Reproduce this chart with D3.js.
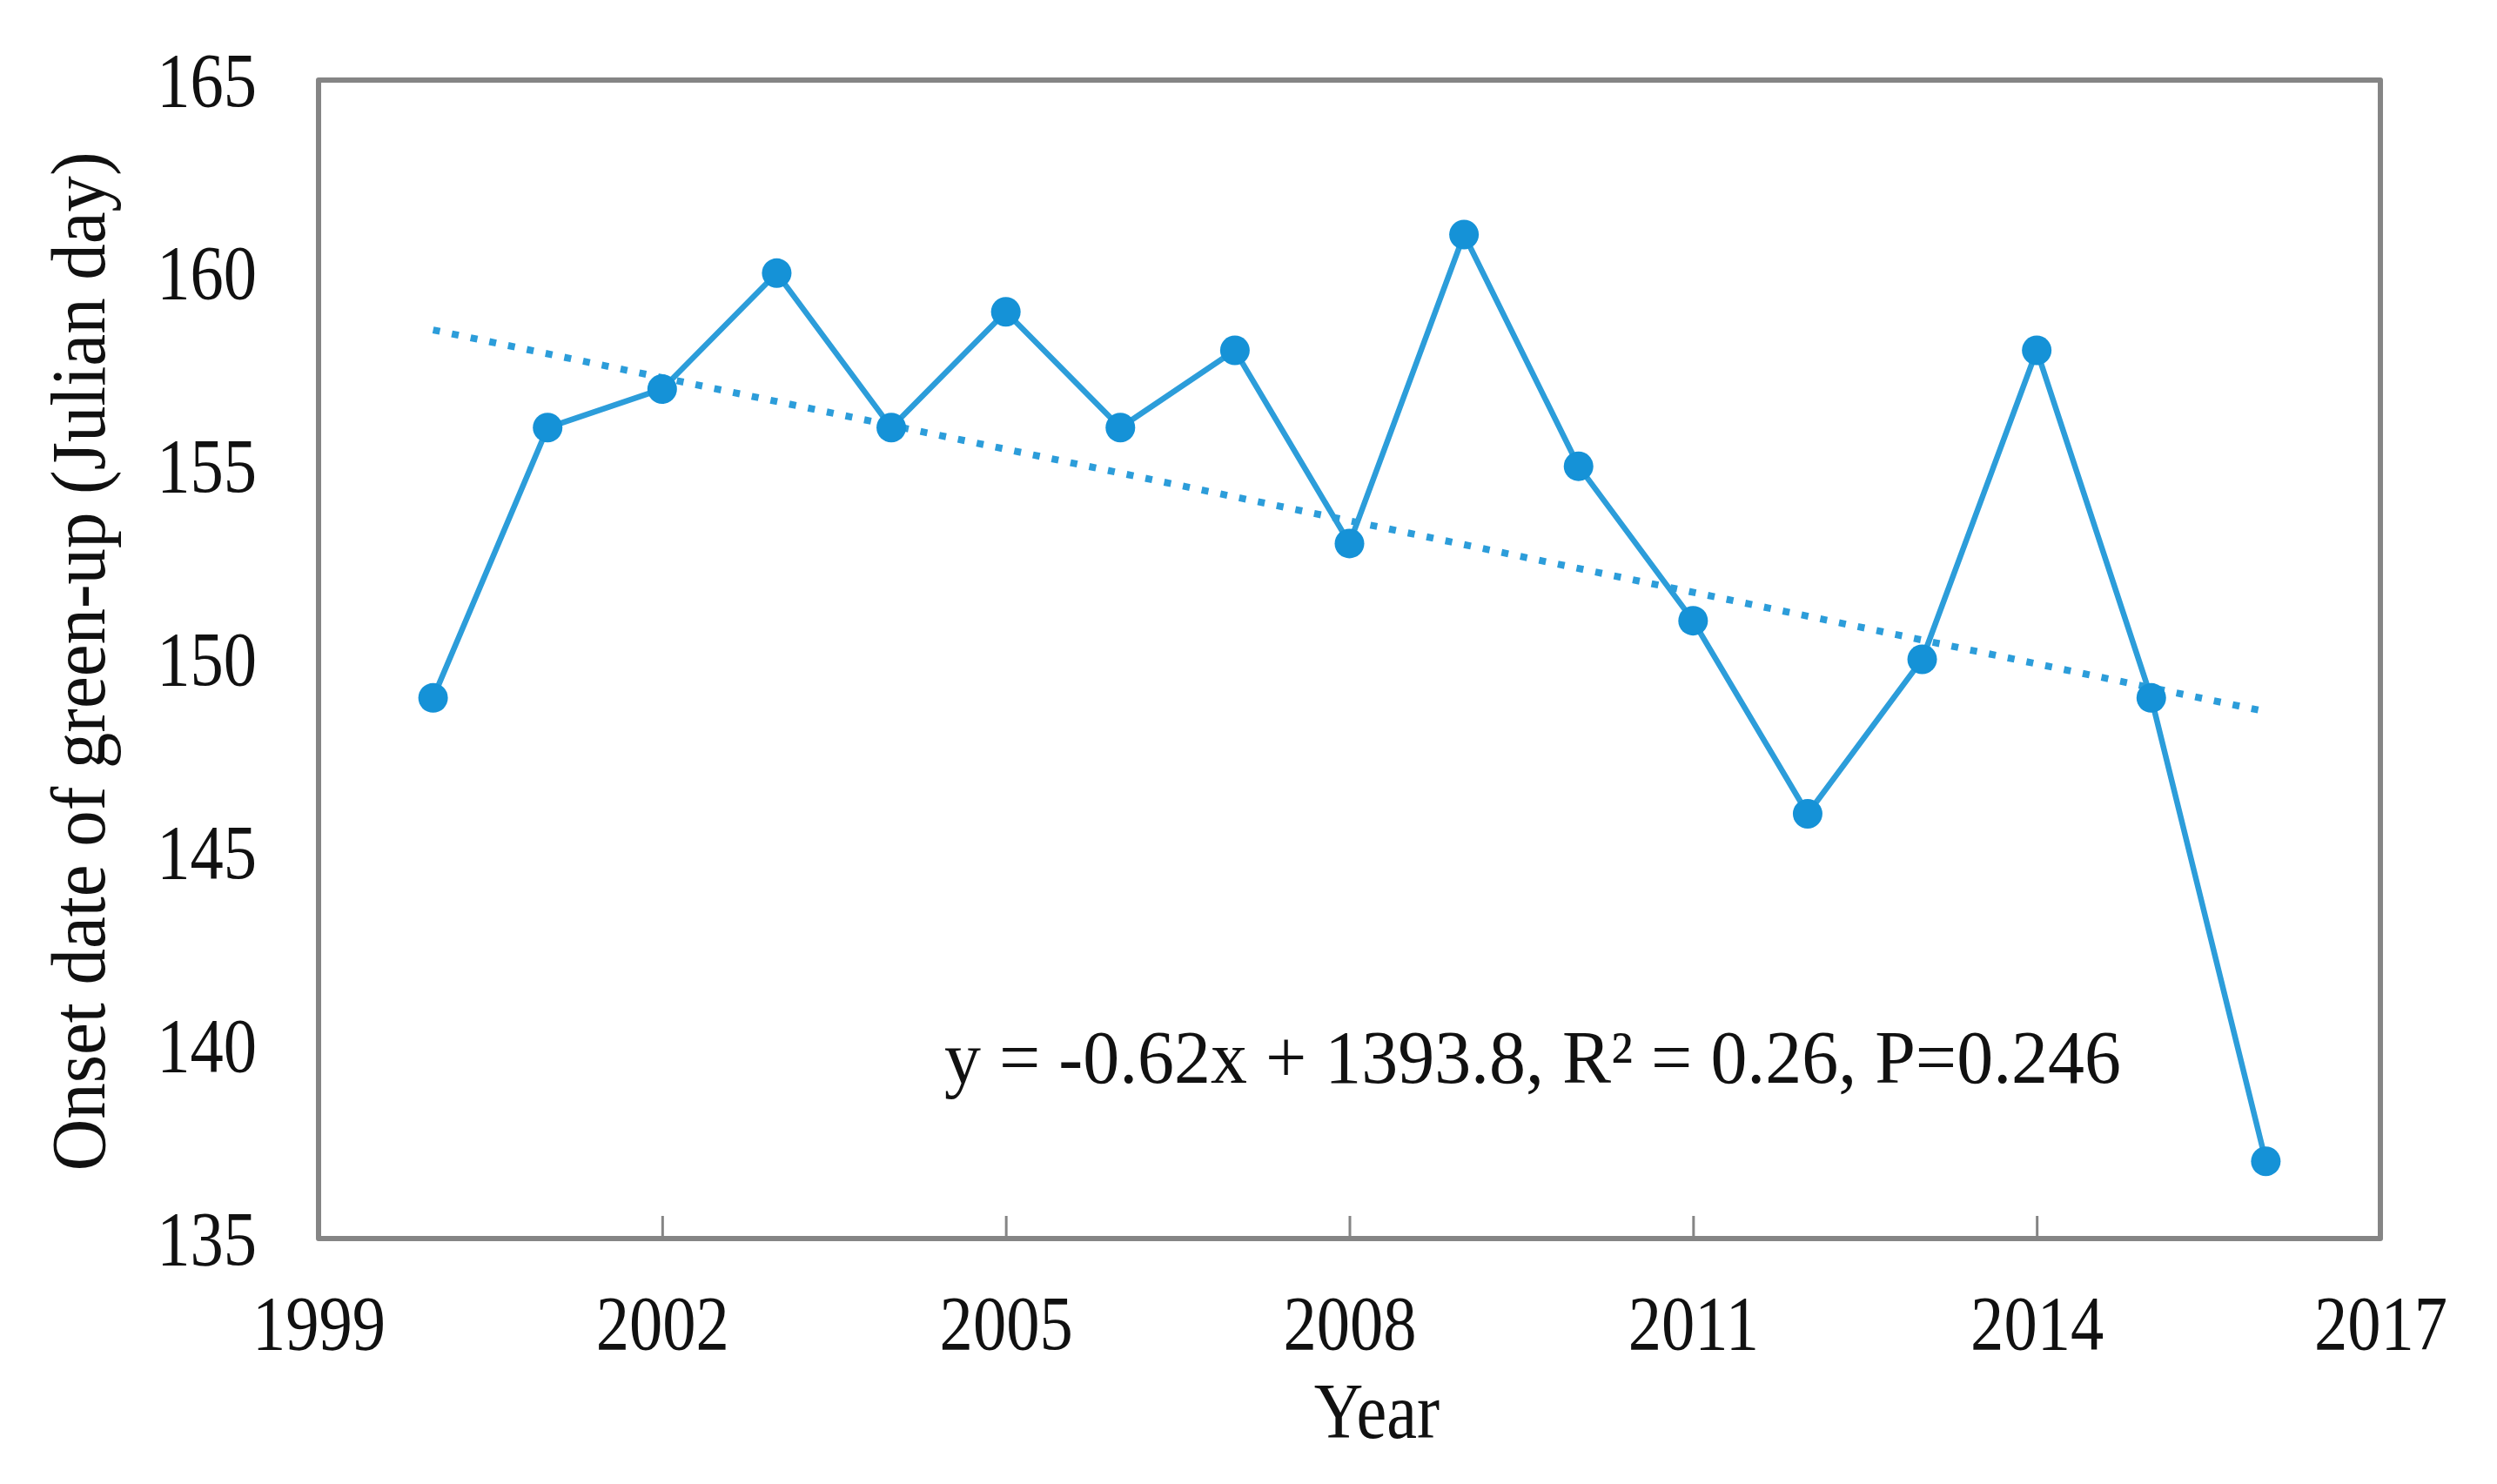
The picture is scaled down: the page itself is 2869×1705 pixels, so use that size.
<!DOCTYPE html>
<html>
<head>
<meta charset="utf-8">
<script src="https://cdn.jsdelivr.net/npm/d3@7"></script>
<style>
  html, body { margin: 0; padding: 0; background: #fff; }
  svg { display: block; }
  text { font-family: "Liberation Serif", "Times New Roman", serif; fill: #111; }
</style>
</head>
<body>
<svg id="chart" width="2869" height="1705"></svg>
<script>
// ---- data ----
const years = [2000, 2001, 2002, 2003, 2004, 2005, 2006, 2007, 2008, 2009, 2010, 2011, 2012, 2013, 2014, 2015, 2016];
const onsetDay = [149, 156, 157, 160, 156, 159, 156, 158, 153, 161, 155, 151, 146, 150, 158, 149, 137];
const xTicks = [1999, 2002, 2005, 2008, 2011, 2014, 2017];
const yTicks = [135, 140, 145, 150, 155, 160, 165];
const xTitle = "Year";
const yTitle = "Onset date of green-up (Julian day)";
const equationText = "y = -0.62x + 1393.8, R\u00B2 = 0.26, P=0.246";

// ---- layout ----
const plotL = 366, plotR = 2735, plotT = 92, plotB = 1423;
const squeeze = 0.87;
const lineColor = "#2C9DDA";
const markerColor = "#1592D7";

const svg = d3.select("#chart");
const x = d3.scaleLinear().domain([1999, 2017]).range([plotL, plotR]);
const y = d3.scaleLinear().domain([135, 165]).range([plotB, plotT]);

// plot frame
svg.append("rect")
  .attr("x", plotL).attr("y", plotT)
  .attr("width", plotR - plotL).attr("height", plotB - plotT)
  .attr("fill", "none").attr("stroke", "#858585")
  .attr("stroke-width", 6).attr("stroke-linejoin", "round");

// x axis (ticks inward)
const xAxis = svg.append("g")
  .attr("transform", `translate(0,${plotB})`)
  .call(d3.axisBottom(x).tickValues(xTicks).tickFormat(d3.format("d")).tickSize(-26).tickSizeOuter(0));
xAxis.select(".domain").remove();
xAxis.selectAll(".tick line").attr("stroke", "#858585").attr("stroke-width", 3);
xAxis.selectAll(".tick text")
  .attr("y", null).attr("dy", null)
  .attr("text-anchor", "middle")
  .attr("font-size", 88)
  .attr("transform", `translate(0,127) scale(${squeeze},1)`)
  .style("fill", "#111");

// y axis (labels only)
const yAxis = svg.append("g")
  .attr("transform", `translate(${plotL},0)`)
  .call(d3.axisLeft(y).tickValues(yTicks).tickFormat(d3.format("d")).tickSize(0));
yAxis.select(".domain").remove();
yAxis.selectAll(".tick line").remove();
yAxis.selectAll(".tick text")
  .attr("x", null).attr("dy", null)
  .attr("text-anchor", "end")
  .attr("font-size", 88)
  .attr("transform", `translate(-71,29) scale(${squeeze},1)`)
  .style("fill", "#111");

// trend line (least squares of the data)
const n = years.length;
const mx = d3.mean(years), my = d3.mean(onsetDay);
const slope = d3.sum(years, (v, i) => (v - mx) * (onsetDay[i] - my)) / d3.sum(years, v => (v - mx) * (v - mx));
const trend = [years[0], years[n - 1]].map(v => [v, my + slope * (v - mx)]);
svg.append("path")
  .datum(trend)
  .attr("d", d3.line().x(d => x(d[0])).y(d => y(d[1])))
  .attr("fill", "none").attr("stroke", lineColor)
  .attr("stroke-width", 8).attr("stroke-dasharray", "8,14");

// series line
const pts = years.map((v, i) => [v, onsetDay[i]]);
svg.append("path")
  .datum(pts)
  .attr("d", d3.line().x(d => x(d[0])).y(d => y(d[1])))
  .attr("fill", "none").attr("stroke", lineColor)
  .attr("stroke-width", 6.5).attr("stroke-linejoin", "round");

svg.append("g").selectAll("circle")
  .data(pts).join("circle")
  .attr("cx", d => x(d[0])).attr("cy", d => y(d[1]))
  .attr("r", 17).attr("fill", markerColor);

// equation
svg.append("text")
  .attr("x", 1085).attr("y", 1244)
  .attr("font-size", 86)
  .attr("textLength", 1352).attr("lengthAdjust", "spacingAndGlyphs")
  .text(equationText);

// axis titles
svg.append("text")
  .attr("transform", `translate(1582,1652) scale(${squeeze},1)`)
  .attr("text-anchor", "middle")
  .attr("font-size", 90)
  .text(xTitle);

svg.append("text")
  .attr("transform", `translate(120,760) rotate(-90)`)
  .attr("text-anchor", "middle")
  .attr("font-size", 88)
  .attr("textLength", 1171).attr("lengthAdjust", "spacingAndGlyphs")
  .text(yTitle);
</script>
</body>
</html>
